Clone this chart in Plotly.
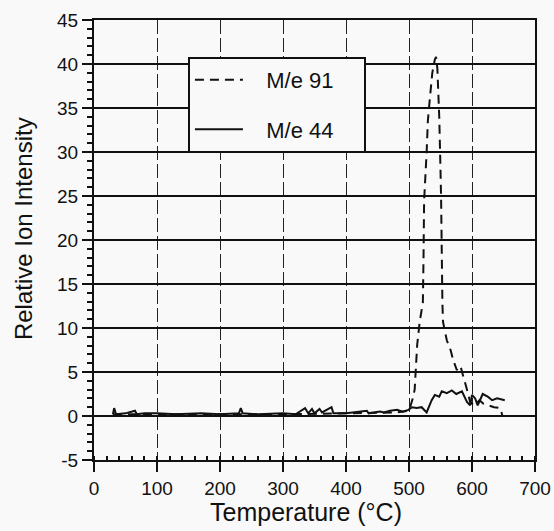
import plotly.graph_objects as go

# M/e 91 (dashed)
t91 = [30, 100, 200, 300, 400, 480, 500, 506, 509, 511, 513, 517, 522, 523, 524, 528, 530, 533,
       537, 541, 543, 545, 548, 550, 551, 553, 554, 560, 566, 570, 576, 578, 582, 585, 589,
       592, 597, 603, 608, 612, 618, 625, 635, 645, 648]
i91 = [0.2, 0.2, 0.2, 0.2, 0.3, 0.4, 0.6, 2.0, 3.0, 5.0, 8.1, 10.7, 12.9, 17.7, 24.5, 30.0, 33.6, 36.0,
       39.0, 40.5, 40.8, 39.5, 34.0, 28.0, 24.5, 12.9, 10.7, 8.6, 7.5, 6.4, 5.2, 5.6, 5.6, 4.8, 3.9,
       3.0, 1.6, 1.2, 1.5, 1.8, 1.4, 1.2, 1.0, 0.9, 0.1]

# M/e 44 (solid)
t44 = [30, 32, 35, 50, 65, 68, 80, 100, 130, 170, 200, 230, 233, 236, 260, 300, 320, 335, 340,
       346, 350, 358, 362, 377, 380, 400, 433, 436, 454, 460, 470, 481, 490, 499, 505, 512, 520,
       528, 536, 541, 548, 552, 560, 568, 575, 584, 592, 597, 600, 605, 609, 617, 625, 632, 640, 652]
i44 = [0.2, 0.9, 0.2, 0.3, 0.6, 0.2, 0.3, 0.3, 0.2, 0.3, 0.2, 0.3, 0.9, 0.3, 0.2, 0.3, 0.2, 0.9, 0.3,
       0.8, 0.3, 0.8, 0.4, 1.0, 0.3, 0.3, 0.6, 0.3, 0.5, 0.4, 0.6, 0.7, 0.5, 0.7, 1.0, 0.9, 1.0,
       0.4, 1.8, 2.4, 2.2, 2.8, 2.6, 2.9, 2.5, 2.8, 1.6, 1.2, 2.4, 2.0, 1.2, 2.5, 2.2, 1.8, 2.0, 1.8]

series_names = ["M/e 91", "M/e 44"]
x_ticks = [0, 100, 200, 300, 400, 500, 600, 700]
y_ticks = [-5, 0, 5, 10, 15, 20, 25, 30, 35, 40, 45]
x_title = "Temperature (°C)"
y_title = "Relative Ion Intensity"

BG = "#f9f9f9"
FONT = "Liberation Sans, Arial, sans-serif"
lead = "\u00a0" * 3
trail = "\u00a0" * 4

fig = go.Figure()
fig.add_trace(go.Scatter(x=t91, y=i91, mode="lines", name=lead + series_names[0] + trail,
                         legendgroup="a",
                         line=dict(color="#111", width=2, dash="9px,6px")))
fig.add_trace(go.Scatter(x=t44, y=i44, mode="lines", name=lead + series_names[1] + trail,
                         legendgroup="b",
                         line=dict(color="#111", width=2)))

fig.update_layout(
    width=554, height=531,
    margin=dict(l=94, r=19, t=20, b=71, autoexpand=False),
    paper_bgcolor=BG, plot_bgcolor=BG,
    font=dict(family=FONT, size=19, color="#111"),
    legend=dict(x=0.213, y=0.916, xanchor="left", yanchor="top",
                bgcolor=BG, bordercolor="#111", borderwidth=2,
                itemwidth=48, tracegroupgap=18, font=dict(size=22)),
    showlegend=True,
    annotations=[
        dict(text=x_title, xref="paper", yref="paper", x=0.481, y=-0.118,
             xanchor="center", yanchor="middle", showarrow=False,
             font=dict(size=25, color="#111")),
        dict(text=y_title, xref="paper", yref="paper", x=-0.161, y=0.527,
             xanchor="center", yanchor="middle", showarrow=False, textangle=-90,
             font=dict(size=24, color="#111")),
    ],
)
fig.update_xaxes(
    range=[0, 700], tickvals=x_ticks, ticktext=[str(v) for v in x_ticks],
    showline=True, linecolor="#111", linewidth=2, mirror=True, automargin=False,
    ticks="outside", ticklen=10, tickwidth=1.5, tickcolor="#111",
    showgrid=True, gridcolor="#222", gridwidth=1, griddash="14px,4px",
    zeroline=False,
    minor=dict(dtick=20, ticks="inside", ticklen=4, tickcolor="#111", showgrid=False),
)
fig.update_yaxes(
    range=[-5, 45], tickvals=y_ticks, ticktext=[str(v) for v in y_ticks],
    showline=True, linecolor="#111", linewidth=2, mirror=True, automargin=False,
    ticks="outside", ticklen=10, tickwidth=2, tickcolor="#111",
    showgrid=True, gridcolor="#111", gridwidth=2,
    zeroline=True, zerolinecolor="#111", zerolinewidth=2,
    minor=dict(dtick=1, ticks="outside", ticklen=5, tickcolor="#111", showgrid=False),
)

fig.write_html("out.html", config={"displayModeBar": False},
               post_script="document.body.style.margin='0';document.body.style.padding='0';")
